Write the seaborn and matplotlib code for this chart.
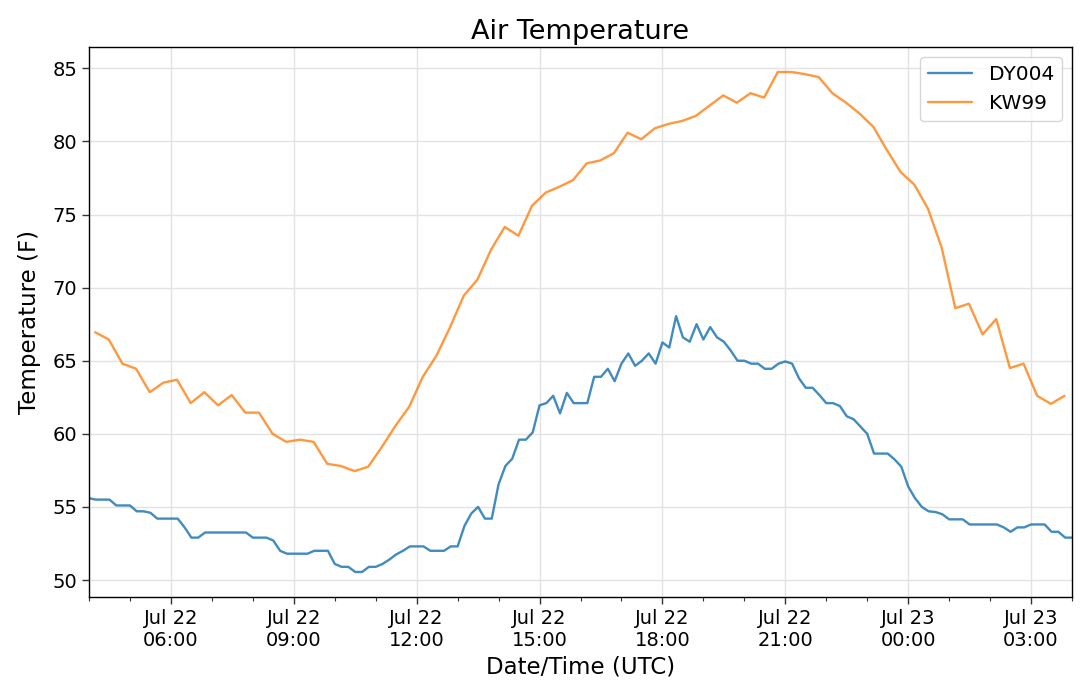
import matplotlib
matplotlib.use("Agg")
import matplotlib.pyplot as plt
import matplotlib.dates as mdates
import seaborn as sns
import pandas as pd

# ---- data ----
dy004_start = "2019-07-22 04:00"
dy004_freq = "10min"
dy004_temp = [
    55.6, 55.5, 55.5, 55.5, 55.1, 55.1,
    55.1, 54.7, 54.7, 54.6, 54.2, 54.2,
    54.2, 54.2, 53.6, 52.9, 52.9, 53.25,
    53.25, 53.25, 53.25, 53.25, 53.25, 53.25,
    52.9, 52.9, 52.9, 52.7, 52.0, 51.8,
    51.8, 51.8, 51.8, 52.0, 52.0, 52.0,
    51.1, 50.9, 50.9, 50.55, 50.55, 50.9,
    50.9, 51.1, 51.4, 51.75, 52.0, 52.3,
    52.3, 52.3, 52.0, 52.0, 52.0, 52.3,
    52.3, 53.7, 54.55, 55.0, 54.2, 54.2,
    56.55, 57.8, 58.3, 59.6, 59.6, 60.1,
    61.95, 62.1, 62.6, 61.4, 62.8, 62.1,
    62.1, 62.1, 63.9, 63.9, 64.45, 63.6,
    64.8, 65.5, 64.65, 65.0, 65.5, 64.8,
    66.25, 65.9, 68.05, 66.6, 66.3, 67.5,
    66.45, 67.3, 66.6, 66.3, 65.7, 65.0,
    65.0, 64.8, 64.8, 64.45, 64.45, 64.8,
    64.95, 64.8, 63.8, 63.15, 63.15, 62.65,
    62.1, 62.1, 61.9, 61.2, 61.0, 60.5,
    60.0, 58.65, 58.65, 58.65, 58.25, 57.75,
    56.4, 55.6, 55.0, 54.7, 54.65, 54.5,
    54.15, 54.15, 54.15, 53.8, 53.8, 53.8,
    53.8, 53.8, 53.6, 53.3, 53.6, 53.6,
    53.8, 53.8, 53.8, 53.3, 53.3, 52.9,
    52.9,
]

kw99_start = "2019-07-22 04:09"
kw99_freq = "20min"
kw99_temp = [
    66.95, 66.45, 64.8, 64.45, 62.85, 63.5, 63.7, 62.1, 62.85, 61.95,
    62.65, 61.45, 61.45, 60.0, 59.45, 59.6, 59.45, 57.95, 57.8, 57.45,
    57.75, 59.1, 60.55, 61.85, 63.9, 65.35, 67.3, 69.45, 70.55, 72.6,
    74.15, 73.55, 75.6, 76.5, 76.9, 77.35, 78.5, 78.7, 79.2, 80.6,
    80.15, 80.9, 81.2, 81.4, 81.75, 82.45, 83.15, 82.65, 83.3, 83.0,
    84.75, 84.75, 84.6, 84.4, 83.3, 82.65, 81.9, 81.0, 79.4, 77.9,
    77.05, 75.4, 72.75, 68.6, 68.9, 66.8, 67.85, 64.5, 64.8, 62.6,
    62.05, 62.6,
]

stations = ["DY004", "KW99"]
colors = ["#1f77b4", "#ff7f0e"]

dy_time = pd.date_range(dy004_start, periods=len(dy004_temp), freq=dy004_freq)
kw_time = pd.date_range(kw99_start, periods=len(kw99_temp), freq=kw99_freq)
df_dy = pd.DataFrame({"time": dy_time, "temp": dy004_temp})
df_kw = pd.DataFrame({"time": kw_time, "temp": kw99_temp})

sns.set_theme(style="white")
plt.rcParams["font.family"] = ["DejaVu Sans"]
plt.rcParams["text.color"] = "black"
plt.rcParams["axes.labelcolor"] = "black"
plt.rcParams["xtick.color"] = "black"
plt.rcParams["ytick.color"] = "black"

fig = plt.figure(figsize=(10.8, 6.88), dpi=100)
ax = fig.add_axes([0.0824, 0.1323, 0.9102, 0.7994])

sns.lineplot(data=df_dy, x="time", y="temp", ax=ax, color=colors[0],
             label=stations[0], linewidth=1.7, alpha=0.85)
sns.lineplot(data=df_kw, x="time", y="temp", ax=ax, color=colors[1],
             label=stations[1], linewidth=1.7, alpha=0.8)

ax.set_xlim(dy_time[0], dy_time[-1])
ax.xaxis.set_major_locator(mdates.HourLocator(byhour=range(0, 24, 3)))
ax.xaxis.set_minor_locator(mdates.HourLocator())
ax.xaxis.set_major_formatter(mdates.DateFormatter("%b %d\n%H:%M"))

ax.grid(True, which="major", color="#e3e3e3", linewidth=1.0)
ax.set_axisbelow(True)
for s in ax.spines.values():
    s.set_color("black")
    s.set_linewidth(1.0)

ax.tick_params(axis="both", which="major", direction="out", length=5,
               width=1, color="#333333", labelsize=14, labelcolor="black",
               bottom=True, left=True)
ax.tick_params(axis="x", which="minor", direction="out", length=3,
               width=0.8, color="#333333", bottom=True)

ax.set_title("Air Temperature", fontsize=19.5, pad=6, color="black")
ax.set_xlabel("Date/Time (UTC)", fontsize=16.5, labelpad=4, color="black")
ax.set_ylabel("Temperature (F)", fontsize=16.5, labelpad=8, color="black")

leg = ax.legend(loc="upper right", fontsize=14.5, frameon=True,
                handlelength=2.2)
leg.get_frame().set_edgecolor("#cccccc")
for t in leg.get_texts():
    t.set_color("black")

fig.savefig("out.png", dpi=100)
